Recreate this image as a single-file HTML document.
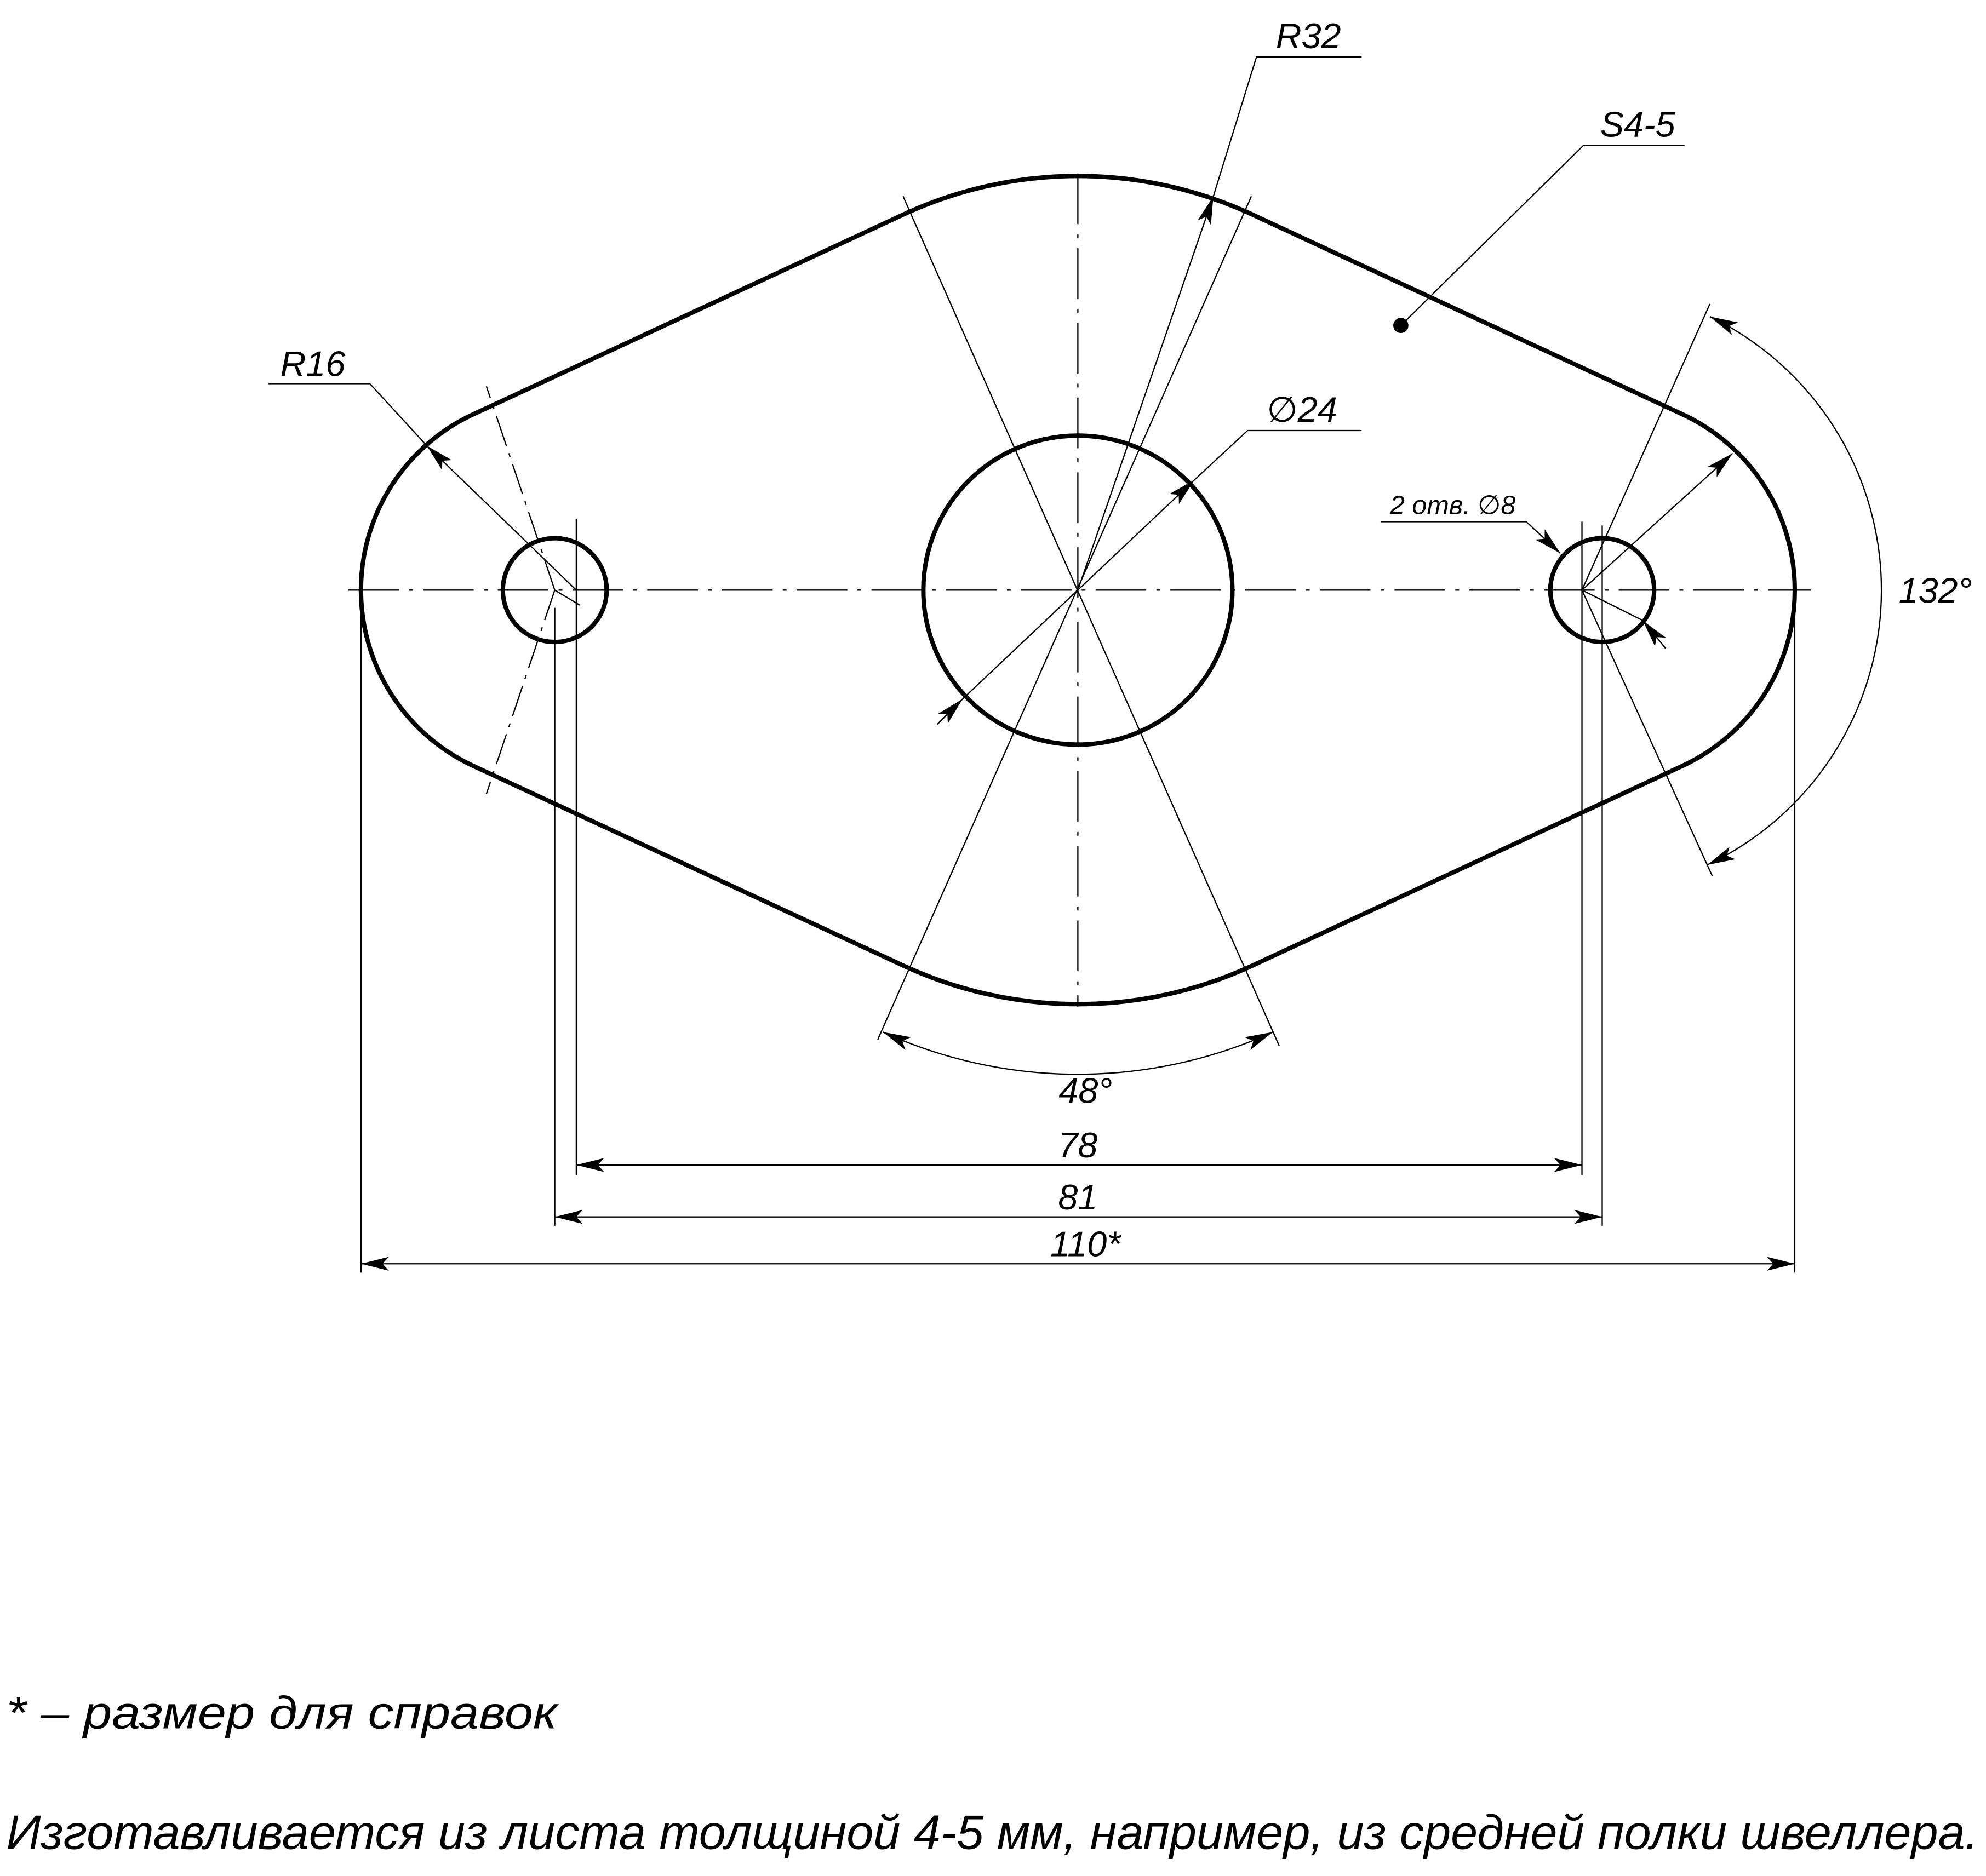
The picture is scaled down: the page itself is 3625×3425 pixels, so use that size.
<!DOCTYPE html>
<html><head><meta charset="utf-8"><style>
html,body{margin:0;padding:0;background:#fff;}
svg{display:block;}
text{font-family:"Liberation Sans","DejaVu Sans",sans-serif;font-style:italic;fill:#000;}
</style></head><body>
<svg width="3625" height="3425" viewBox="0 0 1568 1481.5" preserveAspectRatio="none" xmlns="http://www.w3.org/2000/svg">
<defs>
<marker id="a" viewBox="0 0 22 12" refX="22" refY="6" markerWidth="22" markerHeight="12" markerUnits="userSpaceOnUse" orient="auto-start-reverse">
<path d="M0,0.5 L22,6 L0,11.5 L5,6 Z" fill="#000"/>
</marker>
</defs>
<rect width="1568" height="1481.5" fill="#fff"/>
<path d="M373.6,327.2 L713.3,169.4 A327 327 0 0 1 988.7,169.4 L1328.4,327.2 A153 153 0 0 1 1328.4,604.8 L988.7,762.6 A327 327 0 0 1 713.3,762.6 L373.6,604.8 A153 153 0 0 1 373.6,327.2 Z" fill="none" stroke="#000" stroke-width="3.5"/>
<circle cx="851" cy="466" r="122" fill="none" stroke="#000" stroke-width="3.5"/>
<circle cx="438" cy="466" r="41" fill="none" stroke="#000" stroke-width="3.5"/>
<circle cx="1265" cy="466" r="41" fill="none" stroke="#000" stroke-width="3.5"/>
<g fill="none" stroke="#000" stroke-width="1">
<line x1="275" y1="466" x2="1430" y2="466" stroke-dasharray="40,8,3,8"/>
<line x1="851" y1="137" x2="851" y2="795" stroke-dasharray="40,8,3,8"/>
<line x1="438" y1="466" x2="384" y2="305" stroke-dasharray="25,6,3,6"/>
<line x1="438" y1="466" x2="384" y2="627" stroke-dasharray="25,6,3,6"/>
<line x1="438" y1="480" x2="438" y2="968"/>
<line x1="455" y1="410" x2="455" y2="928"/>
<line x1="1249" y1="412" x2="1249" y2="928"/>
<line x1="1265" y1="415" x2="1265" y2="968"/>
<line x1="285" y1="470" x2="285" y2="1005"/>
<line x1="1417" y1="470" x2="1417" y2="1005"/>
<line x1="455" y1="920" x2="1249" y2="920" marker-start="url(#a)" marker-end="url(#a)"/>
<line x1="438" y1="961" x2="1265" y2="961" marker-start="url(#a)" marker-end="url(#a)"/>
<line x1="285" y1="998" x2="1417" y2="998" marker-start="url(#a)" marker-end="url(#a)"/>
<line x1="713" y1="155" x2="1010" y2="826"/>
<line x1="988" y1="155" x2="693" y2="821"/>
<path d="M697,815 A372 372 0 0 0 1005,815" marker-start="url(#a)" marker-end="url(#a)"/>
<line x1="851" y1="466" x2="958" y2="155" marker-end="url(#a)"/>
<polyline points="958,155 992,45 1075,45"/>
<line x1="740" y1="572" x2="760" y2="552" marker-end="url(#a)"/>
<line x1="760" y1="552" x2="943" y2="379" marker-end="url(#a)"/>
<polyline points="943,379 985,340 1075,340"/>
<polyline points="1106,257 1250,115 1330,115"/>
<line x1="455" y1="466" x2="337" y2="352" marker-end="url(#a)"/>
<polyline points="337,352 292,303 212,303"/>
<line x1="438" y1="466" x2="458" y2="478"/>
<line x1="1249" y1="466" x2="1368" y2="358" marker-end="url(#a)"/>
<polyline points="1090,412 1205,412"/>
<line x1="1205" y1="412" x2="1232" y2="437" marker-end="url(#a)"/>
<line x1="1315" y1="512" x2="1297" y2="490" marker-end="url(#a)"/>
<line x1="1249" y1="466" x2="1297" y2="490"/>
<line x1="1249" y1="466" x2="1350" y2="240"/>
<line x1="1249" y1="466" x2="1352" y2="692"/>
<path d="M1350,250 A240 240 0 0 1 1348,683" marker-start="url(#a)" marker-end="url(#a)"/>
</g>
<circle cx="1106" cy="257" r="6" fill="#000"/>
<g font-size="28">
<text x="1033" y="38" text-anchor="middle">R32</text>
<text x="1293" y="108" text-anchor="middle">S4-5</text>
<text x="247" y="297" text-anchor="middle">R16</text>
<text x="1028" y="333" text-anchor="middle">∅24</text>
<text x="1528" y="476" text-anchor="middle">132°</text>
<text x="857" y="871" text-anchor="middle">48°</text>
<text x="851" y="914" text-anchor="middle">78</text>
<text x="851" y="955" text-anchor="middle">81</text>
<text x="857" y="992" text-anchor="middle">110*</text>
</g>
<text x="1147" y="406" font-size="21" text-anchor="middle">2 отв. ∅8</text>
<text x="5" y="1365" font-size="36" textLength="435" lengthAdjust="spacingAndGlyphs">* – размер для справок</text>
<text x="5" y="1460" font-size="38" textLength="1557" lengthAdjust="spacingAndGlyphs">Изготавливается из листа толщиной 4-5 мм, например, из средней полки швеллера.</text>
</svg>
</body></html>
